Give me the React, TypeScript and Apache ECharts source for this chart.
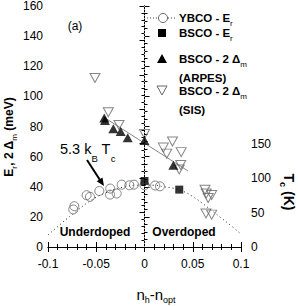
import React, { useEffect, useRef } from 'react';
import * as echarts from 'echarts';

// Tick labels
const xTickLabels = ['-0.1', '-0.05', '0', '0.05', '0.1'];
const yTickLabels = ['0', '20', '40', '60', '80', '100', '120', '140', '160'];
const tcTickLabels = ['0', '50', '100', '150', '', '', '', ''];

// YBCO - Er (open circles)
const ybcoX = [-0.0738, -0.0727, -0.06, -0.0565, -0.0468, -0.0355, -0.0357, -0.0288, -0.0236, -0.0157, -0.0109, 0, 0.011, 0.016];
const ybcoY = [24.9, 27.1, 34.4, 33.3, 37.2, 38.8, 34.8, 35.5, 41.4, 41, 41.4, 41, 40.8, 40.3];

// BSCO - Er (filled squares)
const bscoErX = [0, 0.036];
const bscoErY = [43.8, 38.1];

// BSCO - 2Δm ARPES (filled triangles)
const arpesX = [-0.0417, -0.041, -0.0323, -0.0247, -0.0174, 0, 0.0299];
const arpesY = [85.7, 84, 78.5, 76.7, 72.5, 70.7, 54.2];

// ARPES guide line (read endpoints)
const arpesLineX = [-0.043, 0.045];
const arpesLineY = [86.5, 50.5];

// BSCO - 2Δm SIS (open down triangles)
const sisX = [-0.0513, -0.0375, -0.0264, 0, 0.0195, 0.023, 0.029, 0.038, 0.0375, 0.036, 0.0627, 0.064, 0.0696, 0.066, 0.0637, 0.0696];
const sisY = [112.2, 89.5, 81, 75, 66, 62, 70, 63, 54.5, 51.5, 38, 35.5, 34.5, 32.5, 22.3, 21.5];

// Dotted dome curve
const domeX = [-0.1, -0.09, -0.08, -0.07, -0.06, -0.05, -0.04, -0.03, -0.02, -0.01, 0, 0.01, 0.02, 0.03, 0.04, 0.05, 0.06, 0.07, 0.08, 0.09, 0.1];
const domeY = [8, 13.5, 19, 24, 29, 33, 36, 38.5, 40, 41, 41, 41, 40, 39, 37, 33.5, 29, 24, 19, 14, 8.5];

const zip = (xs: number[], ys: number[]) => xs.map((x, i) => [x, ys[i]]);

const FONT = '"Liberation Sans", Arial, Helvetica, sans-serif';

export default function App() {
  const ref = useRef<HTMLDivElement>(null);
  useEffect(() => {
    document.body.style.margin = '0';
    const chart = echarts.init(ref.current!, null, { renderer: 'svg' });

    const axisCommon = {
      axisLine: { show: true, lineStyle: { color: '#000', width: 1 } },
      axisTick: { show: true, inside: true, length: 5, lineStyle: { color: '#000' } },
      minorTick: { show: true, length: 3, lineStyle: { color: '#000' } },
      splitLine: { show: false },
      minorSplitLine: { show: false },
    };

    const legendRich = {
      b: { fontFamily: FONT, fontSize: 11.5, fontWeight: 'bold', color: '#000' },
      s: { fontFamily: FONT, fontSize: 8, color: '#000', padding: [10, 0, 0, 0] },
    };

    const option: any = {
      animation: false,
      backgroundColor: '#fff',
      grid: { left: 48, right: 57, top: 5, bottom: 59, containLabel: false },
      xAxis: [
        {
          type: 'value', min: -0.1, max: 0.1, interval: 0.05, position: 'bottom',
          ...axisCommon,
          minorTick: { show: true, splitNumber: 5, length: 3, lineStyle: { color: '#000' } },
          axisLabel: {
            margin: 11, fontFamily: FONT, fontSize: 12, color: '#000',
            formatter: (_v: number, i: number) => xTickLabels[i],
          },
        },
        {
          type: 'value', min: -0.1, max: 0.1, interval: 0.05, position: 'top',
          ...axisCommon,
          minorTick: { show: true, splitNumber: 5, length: 3, lineStyle: { color: '#000' } },
          axisLabel: { show: false },
        },
      ],
      yAxis: [
        {
          type: 'value', min: 0, max: 160, interval: 20, position: 'left',
          ...axisCommon,
          minorTick: { show: true, splitNumber: 4, length: 3, lineStyle: { color: '#000' } },
          axisLabel: {
            margin: 5, fontFamily: FONT, fontSize: 12, color: '#000',
            formatter: (_v: number, i: number) => yTickLabels[i],
          },
        },
        {
          type: 'value', min: 0, max: 350, interval: 50, position: 'right',
          ...axisCommon,
          minorTick: { show: true, splitNumber: 5, length: 3, lineStyle: { color: '#000' } },
          axisLabel: {
            margin: 10, fontFamily: FONT, fontSize: 12, color: '#000',
            formatter: (_v: number, i: number) => tcTickLabels[i],
          },
        },
      ],
      series: [
        {
          name: 'dome', type: 'line', data: zip(domeX, domeY), smooth: true, symbol: 'none',
          lineStyle: { color: '#222', width: 1, type: [1, 3] }, z: 1, silent: true,
          markLine: {
            silent: true, symbol: 'none', label: { show: false },
            lineStyle: { color: '#aaa', type: [1, 2], width: 1 },
            data: [{ xAxis: 0 }],
          },
        },
        {
          name: 'YBCO - Er', type: 'scatter', data: zip(ybcoX, ybcoY), symbol: 'circle', symbolSize: 9,
          itemStyle: { color: 'rgba(255,255,255,0)', borderColor: '#666', borderWidth: 1 }, z: 3,
        },
        {
          name: 'BSCO - Er', type: 'scatter', data: zip(bscoErX, bscoErY), symbol: 'rect', symbolSize: 8,
          itemStyle: { color: '#000' }, z: 5,
        },
        {
          name: 'ARPES line', type: 'line', data: zip(arpesLineX, arpesLineY), symbol: 'none',
          lineStyle: { color: '#888', width: 1 }, z: 2, silent: true,
        },
        {
          name: 'BSCO - 2Δm (ARPES)', type: 'scatter', data: zip(arpesX, arpesY), symbol: 'triangle', symbolSize: [10, 9],
          itemStyle: { color: '#000' }, z: 5,
        },
        {
          name: 'BSCO - 2Δm (SIS)', type: 'scatter', data: zip(sisX, sisY), symbol: 'triangle', symbolRotate: 180, symbolSize: [10, 9],
          itemStyle: { color: 'rgba(255,255,255,0)', borderColor: '#666', borderWidth: 1 }, z: 4,
        },
      ],
      graphic: [
        // Legend
        { type: 'line', shape: { x1: 147, y1: 18, x2: 177, y2: 18 }, style: { stroke: '#444', lineWidth: 1, lineDash: [1, 2] } },
        { type: 'circle', shape: { cx: 163, cy: 18, r: 4.5 }, style: { fill: '#fff', stroke: '#666', lineWidth: 1 } },
        { type: 'text', x: 179, y: 18, style: { text: '{b|YBCO - E}{s|r}', rich: legendRich, align: 'left', verticalAlign: 'middle' } },
        { type: 'rect', shape: { x: 158, y: 29, width: 8, height: 8 }, style: { fill: '#000' } },
        { type: 'text', x: 179, y: 33, style: { text: '{b|BSCO - E}{s|r}', rich: legendRich, align: 'left', verticalAlign: 'middle' } },
        { type: 'polygon', shape: { points: [[157, 63], [167, 63], [162, 54]] }, style: { fill: '#000' } },
        { type: 'text', x: 179, y: 59, style: { text: '{b|BSCO - 2 Δ}{s|m}', rich: legendRich, align: 'left', verticalAlign: 'middle' } },
        { type: 'text', x: 179, y: 78, style: { text: '{b|(ARPES)}', rich: legendRich, align: 'left', verticalAlign: 'middle' } },
        { type: 'polygon', shape: { points: [[157, 86], [167, 86], [162, 95]] }, style: { fill: 'none', stroke: '#666', lineWidth: 1 } },
        { type: 'text', x: 179, y: 91, style: { text: '{b|BSCO - 2 Δ}{s|m}', rich: legendRich, align: 'left', verticalAlign: 'middle' } },
        { type: 'text', x: 179, y: 110, style: { text: '{b|(SIS)}', rich: legendRich, align: 'left', verticalAlign: 'middle' } },
        // Panel label
        { type: 'text', x: 75, y: 26, style: { text: '(a)', fontFamily: FONT, fontSize: 12, fill: '#000', align: 'center', verticalAlign: 'middle' } },
        // 5.3 kB Tc annotation
        {
          type: 'text', x: 60, y: 149, style: {
            text: '{a|5.3 k}{s|B}{a| T}{s|c}', align: 'left', verticalAlign: 'middle',
            rich: {
              a: { fontFamily: FONT, fontSize: 14.5, color: '#000' },
              s: { fontFamily: FONT, fontSize: 9.5, color: '#000', padding: [18, 0, 0, 0] },
            },
          },
        },
        { type: 'line', shape: { x1: 87, y1: 160, x2: 100, y2: 180 }, style: { stroke: '#000', lineWidth: 2 } },
        { type: 'polygon', shape: { points: [[104, 186], [102.5, 177.4], [96.7, 181.2]] }, style: { fill: '#000' } },
        // Doping labels
        { type: 'text', x: 95, y: 232, style: { text: 'Underdoped', fontFamily: FONT, fontSize: 12, fontWeight: 'bold', fill: '#000', align: 'center', verticalAlign: 'middle' } },
        { type: 'text', x: 184, y: 232, style: { text: 'Overdoped', fontFamily: FONT, fontSize: 12, fontWeight: 'bold', fill: '#000', align: 'center', verticalAlign: 'middle' } },
        // Axis titles
        {
          type: 'text', x: 9, y: 137, rotation: Math.PI / 2, style: {
            text: '{a|E}{s|r}{a|, 2 Δ}{s|m}{a| (meV)}', align: 'center', verticalAlign: 'middle',
            rich: {
              a: { fontFamily: FONT, fontSize: 12, fontWeight: 'bold', color: '#000' },
              s: { fontFamily: FONT, fontSize: 8, color: '#000', padding: [10, 0, 0, 0] },
            },
          },
        },
        {
          type: 'text', x: 289, y: 192, rotation: -Math.PI / 2, style: {
            text: '{a|T}{s|c}{a| (K)}', align: 'center', verticalAlign: 'middle',
            rich: {
              a: { fontFamily: FONT, fontSize: 14, fontWeight: 'bold', color: '#000' },
              s: { fontFamily: FONT, fontSize: 9, fontWeight: 'bold', color: '#000', padding: [12, 0, 0, 0] },
            },
          },
        },
        {
          type: 'text', x: 156, y: 294, style: {
            text: '{a|n}{s|h}{a|-n}{s|opt}', align: 'center', verticalAlign: 'middle',
            rich: {
              a: { fontFamily: FONT, fontSize: 15, color: '#000' },
              s: { fontFamily: FONT, fontSize: 9, color: '#000', padding: [11, 0, 0, 0] },
            },
          },
        },
      ],
    };

    chart.setOption(option);
    return () => chart.dispose();
  }, []);

  return <div ref={ref} style={{ position: 'absolute', left: 0, top: 0, width: 298, height: 306 }} />;
}
